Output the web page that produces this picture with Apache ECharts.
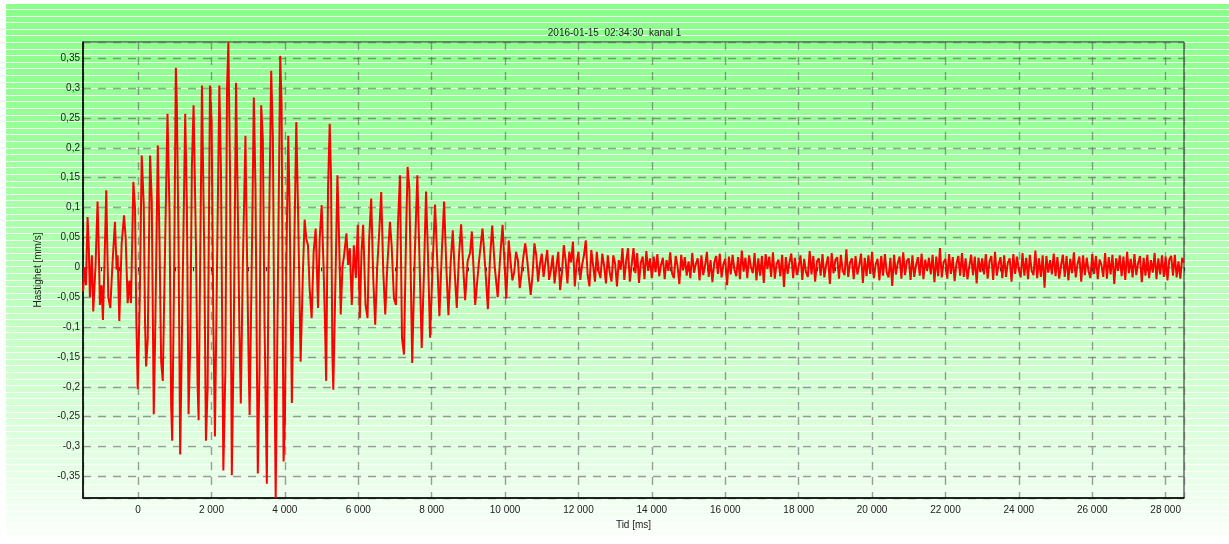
<!DOCTYPE html>
<html><head><meta charset="utf-8">
<script src="https://cdn.jsdelivr.net/npm/echarts@6/dist/echarts.min.js"></script>
<style>html,body{margin:0;padding:0;background:#fff}#c{width:1229px;height:544px}</style>
</head><body><div id="c"></div>
<script>
const chartTitle = '2016-01-15  02:34:30  kanal 1';
const xAxisName = 'Tid [ms]';
const yAxisName = 'Hastighet [mm/s]';

// strong-motion part: time (ms) and velocity (mm/s)
const waveTimeMs = [
 -1500,-1460,-1420,-1375,-1340,-1312,-1258,-1221,-1160,-1103,-1070,-1039,-994,-957,-920,-866,-840,-811,-756,-702,
 -629,-584,-556,-511,-447,-383,-338,-283,-237,-192,-128,-82,-46,-9,46,100,155,191,219,264,
 328,374,428,465,538,583,629,674,738,802,857,902,930,984,1030,1057,1103,1148,1194,1285,
 1330,1376,1422,1467,1513,1577,1622,1650,1741,1805,1850,1896,1960,2005,2051,2095,2151,2215,2260,2324,
 2379,2424,2461,2506,2555,2607,2670,2725,2762,2800,2853,2926,2962,3017,3040,3108,3154,3200,3263,3309,
 3355,3400,3446,3509,3555,3628,3674,3719,3750,3810,3874,3911,3965,4002,4038,4093,4130,4191,4248,4312,
 4357,4430,4494,4539,4584,4630,4675,4730,4785,4840,4904,4949,5004,5058,5095,5125,5177,5222,5259,5295,
 5320,5386,5432,5478,5523,5569,5614,5678,5724,5770,5824,5879,5934,5988,6043,6089,6134,6198,6253,6298,
 6353,6408,6462,6517,6572,6626,6681,6736,6790,6863,6909,6973,7027,7082,7137,7192,7246,7301,7345,7392,
 7470,7540,7610,7670,7729,7790,7847,7900,7957,8030,8093,8150,8211,8280,8339,8400,8457,8520,8576,8630,
 8685,8745,8803,8860,8913,8980,9050,9095,9140,9186,9290,9386,9460,9532,9590,9650,9720,9800,9870,9932,
 10034
];
const waveVelocity = [
 -0.040,0.000,-0.030,0.084,0.030,-0.050,0.020,-0.074,0.000,0.110,0.030,-0.063,-0.030,-0.088,-0.007,0.129,0.040,-0.050,-0.068,0.000,
 0.076,-0.004,0.020,-0.090,0.039,0.087,0.050,-0.060,-0.022,-0.060,0.143,0.098,-0.090,-0.204,-0.056,0.187,0.104,-0.094,-0.166,-0.120,
 0.187,0.110,-0.246,-0.120,0.204,0.050,-0.158,-0.190,0.039,0.257,0.093,-0.230,-0.290,-0.004,0.334,0.271,0.039,-0.313,-0.120,0.257,
 0.104,-0.246,-0.130,0.170,0.271,0.039,-0.196,-0.256,0.304,0.020,-0.290,-0.203,0.304,0.243,-0.090,-0.283,-0.004,0.304,0.159,-0.340,
 -0.174,0.298,0.377,0.159,-0.348,-0.120,0.309,0.070,-0.107,-0.228,-0.004,0.220,0.050,-0.174,-0.247,0.050,0.284,0.132,-0.345,-0.174,
 0.271,0.215,-0.090,-0.362,-0.004,0.329,0.215,-0.174,-0.386,-0.030,0.354,0.271,-0.325,-0.256,-0.004,0.220,0.104,-0.227,0.000,0.243,
 0.104,-0.158,-0.004,0.080,0.048,0.037,-0.035,-0.085,0.026,0.065,-0.068,0.048,0.104,-0.007,-0.096,-0.190,0.132,0.240,0.148,-0.146,
 -0.205,0.000,0.154,0.048,-0.079,0.000,0.020,0.057,0.004,0.032,-0.063,0.037,-0.018,0.071,-0.085,0.026,0.071,-0.063,-0.085,0.048,
 0.115,-0.018,-0.096,0.000,0.060,0.126,-0.007,-0.079,0.000,0.076,0.037,-0.052,-0.063,0.071,0.154,-0.118,-0.146,0.048,0.168,0.132,
 -0.160,0.020,0.154,0.010,-0.135,-0.010,0.127,0.020,-0.118,0.010,0.105,0.015,-0.082,0.030,0.110,0.000,-0.080,0.010,0.062,-0.010,
 -0.068,0.020,0.072,0.000,-0.055,0.010,0.025,0.060,0.000,-0.063,0.010,0.065,0.000,-0.070,0.015,0.070,0.000,-0.050,0.020,0.071,
 -0.052
];

// quiet tail: uniformly sampled from tailStartMs every tailStepMs
const tailStartMs = 10100;
const tailStepMs = 50;
const tailVelocity = [
 0.045,0.010,-0.022,-0.008,0.026,0.012,-0.035,-0.010,0.018,0.040,0.015,-0.018,-0.046,-0.012,0.040,0.020,-0.024,0.005,0.023,-0.016,
 0.008,0.029,-0.021,-0.004,0.020,-0.027,0.002,0.026,-0.038,-0.010,0.037,0.012,-0.027,0.026,0.008,0.043,-0.032,0.006,0.026,
 -0.021,0.004,0.020,0.045,-0.012,-0.032,0.029,0.003,-0.024,0.026,-0.006,-0.018,0.023,0.002,-0.027,0.020,-0.008,-0.024,0.020,0.006,
 -0.032,0.012,-0.004,0.032,-0.021,0.010,0.032,-0.024,0.004,0.032,-0.010,0.024,-0.026,0.008,0.018,-0.020,0.027,-0.006,0.015,-0.018,
 0.018,-0.008,0.022,-0.015,0.004,0.016,-0.020,0.012,-0.006,0.025,-0.010,-0.018,0.019,0.002,-0.028,0.021,-0.005,0.017,-0.014,0.010,
 -0.018,0.024,-0.009,0.006,0.015,-0.022,0.020,-0.013,0.003,0.026,-0.016,0.012,-0.025,0.008,0.019,-0.011,0.023,-0.017,0.005,0.014,
 -0.030,0.018,-0.012,0.021,-0.004,-0.015,0.017,-0.020,0.028,-0.007,0.016,-0.018,0.020,0.001,-0.010,0.024,-0.022,0.015,-0.014,0.019,
 -0.026,0.022,-0.003,0.018,-0.016,0.025,-0.019,0.006,0.013,-0.015,0.021,-0.033,0.017,-0.011,0.009,0.023,-0.018,0.016,-0.013,0.002,
 0.020,-0.021,0.014,-0.008,-0.016,0.027,-0.012,0.019,-0.024,0.010,0.015,-0.014,0.022,-0.017,0.004,0.018,-0.028,0.024,-0.010,0.012,
 0.017,-0.019,0.021,-0.006,-0.013,0.030,-0.016,0.008,0.015,-0.020,0.019,-0.012,0.003,0.023,-0.026,0.016,-0.015,0.020,-0.011,0.026,
 -0.018,0.005,0.014,-0.022,0.019,-0.014,0.022,-0.009,-0.017,0.016,-0.031,0.021,-0.012,0.007,0.018,-0.019,0.025,-0.013,0.011,0.015,
 -0.021,0.020,-0.016,0.004,0.017,-0.014,0.023,-0.020,0.013,-0.006,0.016,-0.012,0.021,-0.025,0.018,-0.015,0.032,-0.017,0.009,0.014,
 -0.019,0.022,-0.011,0.017,-0.023,0.006,0.019,-0.014,0.024,-0.016,0.015,-0.020,0.002,0.021,-0.013,0.018,-0.027,0.016,-0.008,0.015,
 -0.012,0.022,-0.019,0.010,0.019,-0.021,0.026,-0.014,0.005,0.017,-0.018,0.020,-0.016,0.008,0.015,-0.024,0.022,-0.011,0.018,-0.004,
 -0.017,0.024,-0.014,0.016,-0.020,0.021,-0.006,-0.013,0.028,-0.018,0.015,-0.016,0.020,-0.034,0.019,-0.009,0.012,-0.012,0.023,-0.015,
 0.017,-0.019,0.003,0.021,-0.016,0.019,-0.022,0.014,-0.010,0.025,-0.017,0.006,0.018,-0.024,0.020,-0.013,0.016,-0.007,-0.018,0.022,
 -0.011,0.019,-0.020,0.013,0.004,-0.016,0.024,-0.019,0.017,-0.012,0.021,-0.028,0.015,-0.006,0.020,-0.015,0.018,-0.021,0.026,-0.010,
 0.014,-0.017,0.022,-0.013,0.007,0.019,-0.025,0.016,-0.014,0.021,-0.018,0.012,-0.009,0.024,-0.020,0.015,-0.012,0.020,-0.016,0.018,
 -0.022,0.013,0.019,-0.014,0.021,-0.017,0.010,-0.019,0.016,0.008
];

const xMin = -1500, xMax = 28500, xStep = 2000, xMinorStep = 500;
const yMin = -0.386, yMax = 0.377, yStep = 0.05;

const seriesData = waveTimeMs.map((t, i) => [t, waveVelocity[i]])
  .concat(tailVelocity.map((v, i) => [tailStartMs + i * tailStepMs, v]));

// decorative striped green background
const bgElements = [{
  type: 'rect', z: -100, silent: true,
  shape: { x: 6, y: 4, width: 1223, height: 534 },
  style: { fill: { type: 'linear', x: 0, y: 0, x2: 0, y2: 1, colorStops: [
    { offset: 0, color: '#8aff8a' }, { offset: 0.2, color: '#95ff95' },
    { offset: 0.45, color: '#b0ffb0' }, { offset: 0.62, color: '#c6ffc6' },
    { offset: 0.85, color: '#e2ffe2' }, { offset: 1, color: '#fbfffb' } ] } }
}];
for (let y = 9; y < 538; y += 6.6) {
  bgElements.push({ type: 'rect', z: -99, silent: true,
    shape: { x: 6, y: Math.round(y), width: 1223, height: 1 },
    style: { fill: '#ffffff', opacity: 0.9 } });
}

const fontFam = '"Liberation Sans", Arial, sans-serif';
const spaceThousands = v => String(v).replace(/\B(?=(\d{3})+(?!\d))/g, ' ');
const commaDecimal = v => { const r = Number(v.toFixed(2)); return r === 0 ? '0' : String(r).replace('.', ','); };
const gridLine = { show: true, lineStyle: { type: [8, 7], color: 'rgba(95,95,95,0.6)', width: 1.4 } };

const chart = echarts.init(document.getElementById('c'), null, { renderer: 'canvas' });
chart.setOption({
  animation: false,
  backgroundColor: '#ffffff',
  graphic: { elements: bgElements },
  title: { text: chartTitle, left: 'center', top: 23,
    textStyle: { fontSize: 10, fontWeight: 'normal', color: '#222', fontFamily: fontFam } },
  grid: { left: 83, right: 45, top: 42, bottom: 46, show: true, borderColor: '#222', borderWidth: 1, backgroundColor: 'transparent' },
  xAxis: [{
    type: 'value', min: xMin, max: xMax, splitNumber: 15, minInterval: xStep, maxInterval: xStep,
    axisLine: { show: true, onZero: false, lineStyle: { color: '#000', width: 1.5 } },
    axisTick: { show: false },
    axisLabel: { formatter: spaceThousands, color: '#222', fontSize: 10, fontFamily: fontFam, margin: 7, showMinLabel: false, showMaxLabel: false },
    splitLine: gridLine,
    name: xAxisName, nameLocation: 'middle', nameGap: 20,
    nameTextStyle: { fontSize: 10, color: '#222', fontFamily: fontFam }
  }, {
    type: 'value', min: xMin, max: xMax, interval: xMinorStep, position: 'bottom',
    axisLine: { show: false }, axisLabel: { show: false }, splitLine: { show: false },
    axisTick: { show: true, length: 4, inside: false, lineStyle: { color: '#333', width: 1 } }
  }],
  yAxis: {
    type: 'value', min: yMin, max: yMax, splitNumber: 16, minInterval: yStep, maxInterval: yStep,
    axisLine: { show: true, onZero: false, lineStyle: { color: '#000', width: 1.5 } },
    axisTick: { show: false },
    axisLabel: { formatter: commaDecimal, color: '#222', fontSize: 10, fontFamily: fontFam, margin: 3, showMinLabel: false, showMaxLabel: false },
    splitLine: gridLine,
    name: yAxisName, nameLocation: 'middle', nameGap: 40,
    nameTextStyle: { fontSize: 10, color: '#222', fontFamily: fontFam }
  },
  series: [{
    type: 'line', xAxisIndex: 0, data: seriesData, showSymbol: false, symbol: 'none',
    lineStyle: { color: '#ff0000', width: 2 }, clip: true, sampling: false, z: 3
  }]
});
</script></body></html>
